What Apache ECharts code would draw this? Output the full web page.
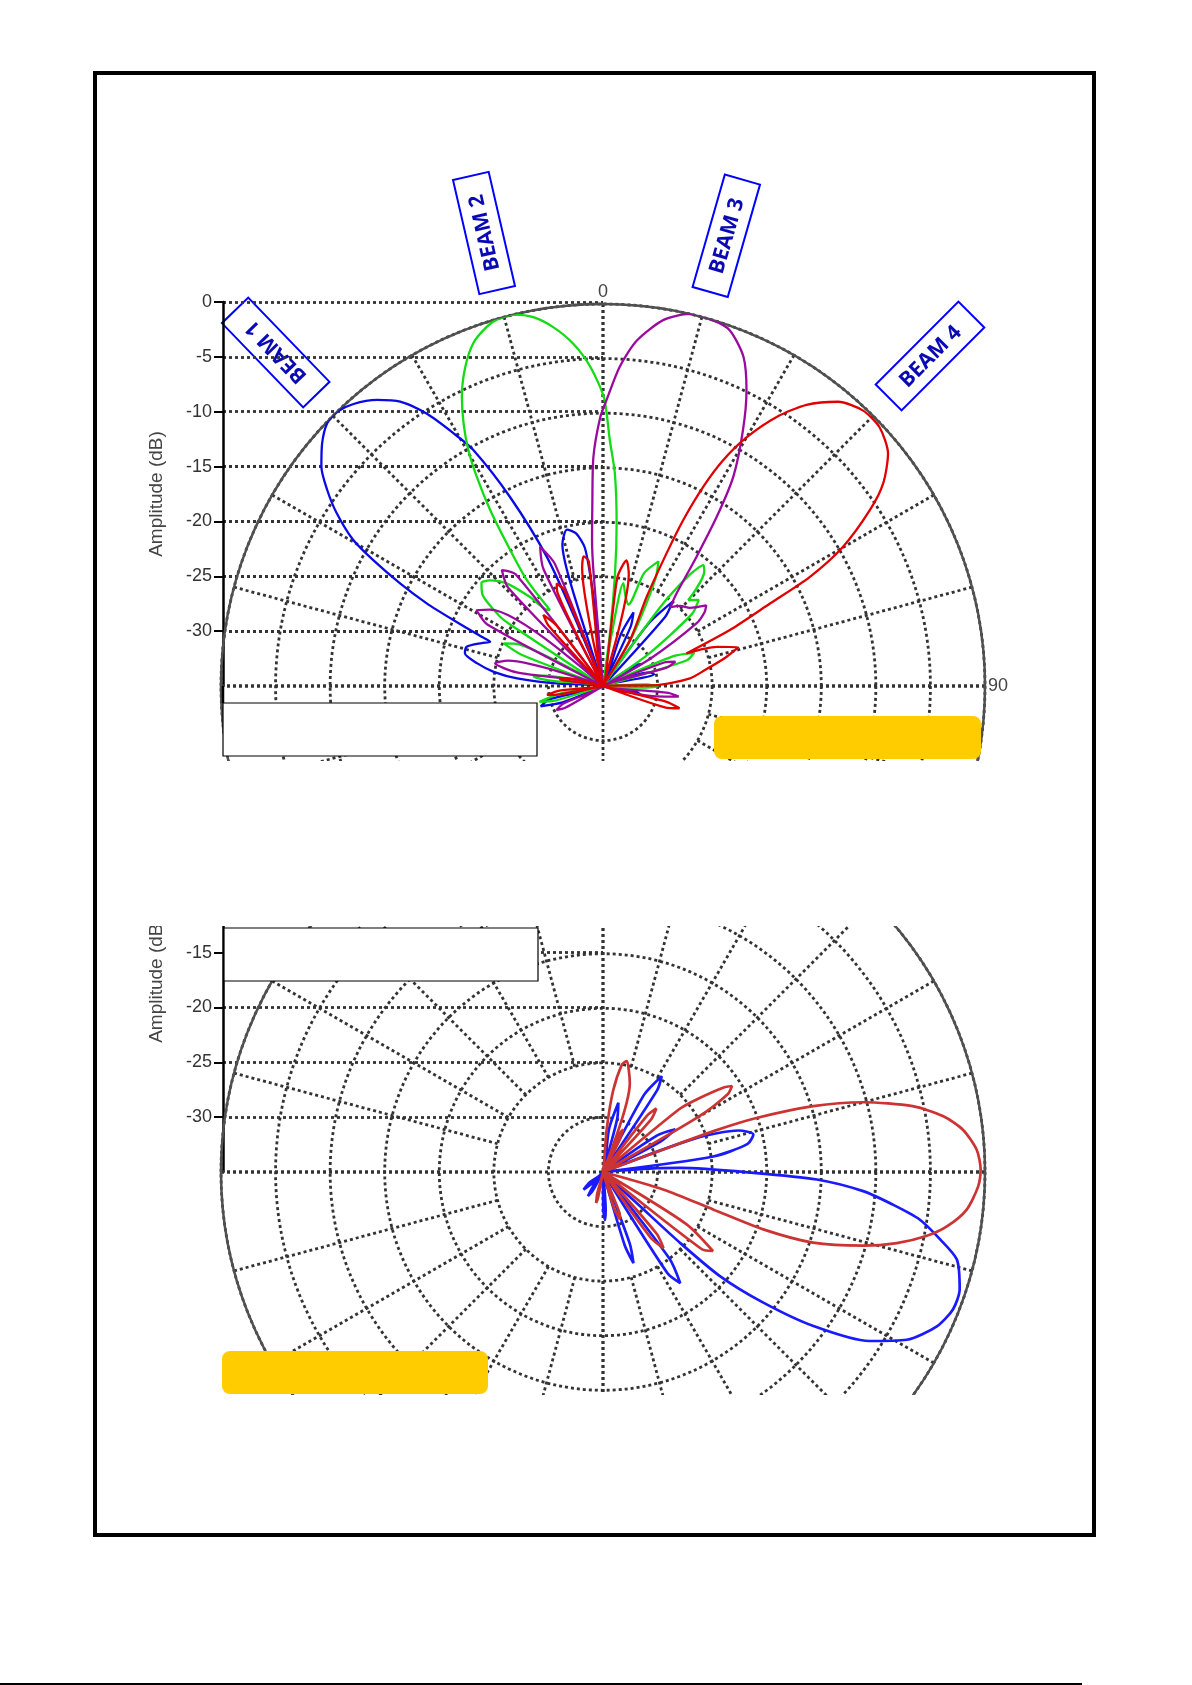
<!DOCTYPE html>
<html>
<head>
<meta charset="utf-8">
<script src="https://cdn.jsdelivr.net/npm/echarts@6/dist/echarts.min.js"></script>
<style>
  html,body{margin:0;padding:0;background:#fff;}
  #page{position:relative;width:1192px;height:1685px;overflow:hidden;background:#fff;}
  .clip{position:absolute;left:0;width:1192px;overflow:hidden;}
  .chart{position:absolute;left:0;width:1192px;height:1100px;}
</style>
</head>
<body>
<div id="page">
  <div class="clip" style="top:0;height:761px;"><div id="c1" class="chart" style="top:0;"></div></div>
  <div class="clip" style="top:926px;height:469px;"><div id="c2" class="chart" style="top:-440px;"></div></div>
  <div style="position:absolute;left:93px;top:71px;width:1003px;height:1466px;border:4px solid #000;box-sizing:border-box;pointer-events:none;"></div>
  <div style="position:absolute;left:0;top:1683px;width:1082px;height:1.5px;background:#000;"></div>
</div>
<script>
// ---------- data (angle in degrees, 0 = top, clockwise; amplitude in dB) ----------
const ampTicks = [-30, -25, -20, -15, -10, -5, 0];
const angleLabels = [0, 90];
const beamLabels = ['BEAM 1', 'BEAM 2', 'BEAM 3', 'BEAM 4'];

const beam1 = [[-180,-35],[-118,-35],[-112,-31],[-108,-29],[-104,-30],[-100,-35],
  [-90,-35],[-87,-31],[-84.9,-27.1],[-82.6,-24.9],[-79.8,-23.3],[-76.7,-22],[-73.9,-22],[-70.5,-23.2],[-68.6,-23.9],
  [-67.9,-23],[-66.2,-20],[-64.9,-17.2],[-63.2,-14.2],[-61.3,-11],[-59.7,-8.5],[-57,-5.9],[-54.6,-4],[-52.1,-2.3],
  [-49.2,-1],[-46.4,-0.1],[-44.2,0],[-41.5,-0.5],[-38.3,-1.6],[-35.5,-3],[-32.9,-5.3],[-30.6,-8.1],[-28.8,-10.3],
  [-26.2,-15.7],[-23.5,-22.1],[-22.5,-28],[-22,-35],
  [-17.5,-35],[-17.5,-25],[-16,-21.5],[-13,-20.3],[-10,-20.8],[-7.5,-22.2],[-6.5,-25],[-6,-28],[-5.5,-35],
  [16,-35],[19,-30],[22.5,-27.7],[25,-29],[27,-35],
  [33,-35],[36,-28],[39.5,-25],[42,-26.5],[45,-35],
  [53,-35],[57,-31.5],[60,-31],[64,-35],
  [70,-35],[74,-30.5],[77,-30.2],[81,-35],
  [95,-35],[99,-32],[103,-31.5],[107,-35],[180,-35]];

const beam2 = [[-180,-35],[-110,-35],[-107,-30.5],[-104,-29],[-100,-31],[-97,-35],
  [-87,-35],[-84,-30],[-82.4,-28.6],[-80,-29.5],[-77,-35],
  [-72,-35],[-69,-27],[-66.8,-25.1],[-63.5,-26.5],[-60,-35],
  [-58,-35],[-56.5,-25],[-56,-23.6],[-53,-21.2],[-49.7,-20.4],[-47,-20.8],[-43.2,-22.1],[-39.3,-24.5],[-36.5,-26.3],[-34.9,-26.5],
  [-35.7,-23],[-34,-19.2],[-32.7,-15.9],[-31.1,-12.6],[-29.7,-10.1],[-28,-7.8],[-26,-5.5],[-23.4,-3.2],[-20.7,-1.4],
  [-17.9,-0.4],[-16.1,-0.05],[-13.5,0],[-10.7,-0.6],[-7.9,-1.8],[-5,-3.5],[-2.3,-5.7],[0.2,-8.6],[1.6,-12.5],
  [3.2,-15.5],[4.8,-20.1],[6.1,-24.6],[7.5,-30],[8.5,-35],
  [9.5,-30],[11.2,-25.4],[14,-26.5],[17.3,-27.2],[20,-24],[24,-22.5],[26,-24],[29,-28],[31,-30.4],[33,-35],
  [36,-26],[38,-22],[39.7,-20.6],[41.5,-21],[44.8,-23.9],[48,-23.2],[51,-24.5],[55,-30],[58,-35],
  [64,-35],[67,-28],[70,-26.1],[73,-27],[77,-35],
  [85,-35],[88,-31],[90.5,-30],[93,-32],[96,-35],[180,-35]];

const beam3 = [[-180,-35],[-125,-35],[-120,-31],[-117.4,-30.2],[-114,-31],[-110,-35],
  [-85,-35],[-81,-27],[-78.1,-24.9],[-75,-26],[-72,-35],
  [-66,-35],[-62,-23],[-59,-21.5],[-56,-22.5],[-52,-35],
  [-47,-35],[-44,-22.5],[-41.1,-20.9],[-38,-22],[-34,-35],
  [-30,-35],[-27,-23],[-24.3,-21],[-21.5,-23],[-18,-35],
  [-5,-35],[-4.8,-25],[-4.3,-21.6],[-3.4,-18.5],[-2.4,-14],[-0.6,-10.4],[0.7,-8.8],[3,-5.7],[5.6,-3.2],[9.4,-1],
  [13.1,0],[16.6,0],[19.6,-0.4],[23.1,-2.2],[25.9,-4.9],[28.7,-8.3],[31.9,-12.4],[33.9,-16.3],[35.9,-20.4],[38.5,-24.2],
  [40.5,-25.5],[44,-24.8],[48,-24.3],[52,-23],[54,-23.5],[56.2,-24.7],[60,-30],[62,-35],
  [66,-35],[69,-29],[71.4,-28],[74,-29],[78,-35],
  [93,-35],[96,-29],[98,-28],[101,-30],[105,-35],[180,-35]];

const beam4 = [[-180,-35],[-104,-35],[-101,-31],[-99,-29.8],[-96,-31],[-93,-35],
  [-84,-35],[-81,-31],[-78,-31.5],[-75,-35],
  [-45,-35],[-42,-27.5],[-40,-26.5],[-37.5,-28],[-35,-35],
  [-29,-35],[-26,-25.5],[-24.3,-24.7],[-22,-25.5],[-19.5,-35],
  [-12,-35],[-10,-24],[-8.5,-23],[-6.5,-23.5],[-4.5,-35],
  [5,-35],[7.5,-25],[10.6,-23.3],[13,-24.5],[15.5,-35],
  [30.4,-30.1],[26.1,-25.9],[25.6,-21.5],[25.8,-18.1],[26.7,-14.6],[28,-11.6],[30,-8.7],[32.8,-5.7],[35.9,-3.2],
  [39.6,-1.2],[43.3,-0.3],[46.9,-0.3],[50.8,-1.3],[54.1,-3.3],[56.6,-5.7],[59.9,-9.6],[62.2,-13.6],[63.7,-17.9],
  [66.2,-22.3],[68.7,-26.8],[71,-24],[74,-22.1],[77,-23.5],[81,-25.5],[85,-27],[89,-30],[92,-35],
  [101,-35],[104,-29],[106.2,-27.7],[109,-29],[113,-35],[180,-35]];

const lowerBlue = [[-180,-35],[-155,-35],[-151,-33],[-148,-32.4],[-145,-33.5],[-140,-35],[-136,-33.5],[-132,-32.6],[-128,-33.5],[-124,-35],
  [0,-35],[8,-31],[12.5,-28.5],[15,-30],[18,-35],
  [25,-35],[28,-27],[31.5,-24.7],[33.5,-26],[36,-35],
  [52,-35],[56,-29],[59.4,-27.3],[62,-29],[65,-35],
  [68,-35],[70,-26],[73,-22],[76,-20.8],[79,-21.5],[82,-24.8],[85,-35],
  [86,-30],[87,-27.9],[90.3,-21.2],[92,-15.4],[94.2,-11.1],[96.4,-8.3],[98.5,-5.7],[101.3,-3.5],[103.9,-1.6],[108.2,-0.6],
  [111.4,-0.55],[114.8,-1.3],[118.9,-3.2],[122.4,-6.1],[126.2,-11.1],[129.2,-16.1],[131.7,-20.7],[132.6,-25.4],[132.7,-30.4],[133,-35],
  [140,-35],[142.5,-25],[145.2,-22.6],[147.5,-24],[150,-35],
  [157,-35],[159.5,-28],[161.5,-26.2],[163.5,-28],[166,-35],
  [173,-35],[176,-31.5],[177.6,-30.6],[179.5,-31.5],[180,-35]];

const lowerRed = [[-180,-35],[-172,-35],[-169,-32.5],[-167.5,-32.1],[-165,-33],[-162,-35],
  [0,-35],[5,-31],[7.1,-27.5],[10,-25],[12.1,-24.6],[14.5,-25.5],[16.8,-26.5],[19,-35],
  [22,-35],[24,-31],[25.5,-30.7],[27.5,-32],[29,-35],
  [35,-35],[38,-28.5],[40,-27.4],[42.5,-28.5],[45,-35],
  [48,-35],[50.5,-26],[52.3,-24.1],[55,-21.5],[56.3,-20.8],[58,-21.5],[60,-25],[62,-35],
  [66,-35],[69.5,-29.1],[69.7,-24.2],[70.6,-20.1],[72.6,-14.8],[75,-10.3],[78,-6],[80.7,-3.4],[83.3,-1.8],[86.6,-0.7],
  [89.6,-0.4],[92.2,-0.6],[95.9,-1.5],[99,-3.1],[101.2,-4.8],[103.6,-7.3],[105.8,-10.2],[108.6,-14.7],[109.7,-19.4],
  [108.8,-24.3],[106.2,-29.2],[105,-35],
  [118,-35],[122,-26],[125.7,-22.6],[128,-23.5],[131,-35],
  [136,-35],[139,-27.5],[141.5,-26.1],[144,-27.5],[147,-35],
  [155,-35],[158,-31],[160.3,-30.4],[163,-31.5],[166,-35],[180,-35]];

// ---------- styling / layout ----------
const GRID_DOT = {color:'#333', width:2.8, type:[3,3]};
const CENTER = [603, 686];
const RADIUS = 382;
const SPOKE_INNER = RADIUS * 10 / 35;   // radial spokes start at the -25 dB ring

function lineSeries(data, color, width, z) {
  return {
    type: 'line', coordinateSystem: 'polar', polarIndex: 0,
    data: data.map(p => [p[1], p[0]]),
    symbol: 'none', showSymbol: false, smooth: 0.25,
    lineStyle: {color: color, width: width}, z: z, silent: true
  };
}

function baseOption(showAngleLabels, series, graphics) {
  return {
    animation: false,
    backgroundColor: 'transparent',
    polar: [
      {center: CENTER, radius: [0, RADIUS]},
      {center: CENTER, radius: [SPOKE_INNER, RADIUS]}
    ],
    angleAxis: [{
      polarIndex: 0,
      type: 'value', min: -180, max: 180, interval: 90, startAngle: 270, clockwise: true,
      axisLine: {show: true, lineStyle: {color: '#505050', width: 2.5}},
      axisTick: {show: false},
      axisLabel: {show: showAngleLabels, margin: 3, color: '#444', fontSize: 18,
        fontFamily: 'Liberation Sans, Arial, sans-serif',
        formatter: v => angleLabels.includes(v) ? String(v) : ''},
      splitLine: {show: true, lineStyle: GRID_DOT},
      z: 2
    }, {
      polarIndex: 1,
      type: 'value', min: -180, max: 180, interval: 15, startAngle: 270, clockwise: true,
      axisLine: {show: false}, axisTick: {show: false}, axisLabel: {show: false},
      splitLine: {show: true, lineStyle: GRID_DOT},
      z: 1
    }],
    radiusAxis: [{
      polarIndex: 0,
      type: 'value', min: -35, max: 0, interval: 5,
      axisLine: {show: false}, axisTick: {show: false}, axisLabel: {show: false},
      splitLine: {show: true, lineStyle: GRID_DOT}
    }, {
      polarIndex: 1,
      type: 'value', min: -25, max: 0, interval: 5,
      axisLine: {show: false}, axisTick: {show: false}, axisLabel: {show: false},
      splitLine: {show: false}
    }],
    grid: {left: 223, top: 302, width: 380, height: 384, containLabel: false},
    xAxis: {type: 'value', min: 0, max: 1, show: false},
    yAxis: {
      type: 'value', min: -35, max: 0, interval: 5,
      axisLine: {show: true, lineStyle: {color: '#000', width: 2.5}},
      axisTick: {show: true, length: 9, lineStyle: {color: '#000', width: 2}, customValues: ampTicks},
      axisLabel: {margin: 11, color: '#333', fontSize: 18, fontFamily: 'Liberation Sans, Arial, sans-serif',
        customValues: ampTicks, formatter: v => v === -35 ? '' : String(v)},
      splitLine: {show: true, lineStyle: GRID_DOT},
      name: 'Amplitude (dB)', nameLocation: 'middle', nameGap: 57,
      nameTextStyle: {color: '#444', fontSize: 19, fontFamily: 'Liberation Sans, Arial, sans-serif'}
    },
    series: series,
    graphic: graphics
  };
}

function beamTag(text, x, y, deg) {
  return {
    type: 'group', x: x, y: y, rotation: deg * Math.PI / 180, z: 120,
    children: [
      {type: 'rect', shape: {x: -58.5, y: -18.3, width: 117, height: 36.6},
       style: {fill: '#fff', stroke: '#0000ff', lineWidth: 2}},
      {type: 'text', x: 0, y: 1,
       style: {text: text, align: 'center', verticalAlign: 'middle', fill: '#0a0ab4',
         font: 'bold 21px "Open Sans", "Liberation Sans", sans-serif'}}
    ]
  };
}

const c1 = echarts.init(document.getElementById('c1'), null, {renderer: 'canvas'});
c1.setOption(baseOption(true, [
  lineSeries(beam1, '#0a0ae6', 2.3, 10),
  lineSeries(beam2, '#14dc14', 2.3, 11),
  lineSeries(beam3, '#9a0a9e', 2.3, 12),
  lineSeries(beam4, '#e00000', 2.3, 13)
], [
  {type: 'line', shape: {x1: 223, y1: 686, x2: 223, y2: 703}, style: {stroke: '#000', lineWidth: 2.5}, z: 90},
  {type: 'rect', shape: {x: 223, y: 703, width: 314, height: 53}, style: {fill: '#fff', stroke: '#000', lineWidth: 1.2}, z: 100},
  {type: 'rect', shape: {x: 714, y: 716, width: 267, height: 43, r: 8}, style: {fill: '#ffcc00'}, z: 100},
  beamTag(beamLabels[0], 275.7, 352.5, 134),
  beamTag(beamLabels[1], 484, 233, 103),
  beamTag(beamLabels[2], 726.3, 235.8, 74),
  beamTag(beamLabels[3], 930, 356, 45)
]));

const c2 = echarts.init(document.getElementById('c2'), null, {renderer: 'canvas'});
c2.setOption(baseOption(false, [
  lineSeries(lowerBlue, '#1a1aff', 2.7, 10),
  lineSeries(lowerRed, '#cc3333', 2.7, 11)
], [
  {type: 'rect', shape: {x: 224, y: 442, width: 314, height: 53}, style: {fill: '#fff', stroke: '#000', lineWidth: 1.2}, z: 100},
  {type: 'rect', shape: {x: 222, y: 865, width: 266, height: 43, r: 8}, style: {fill: '#ffcc00'}, z: 100}
]));
</script>
</body>
</html>
